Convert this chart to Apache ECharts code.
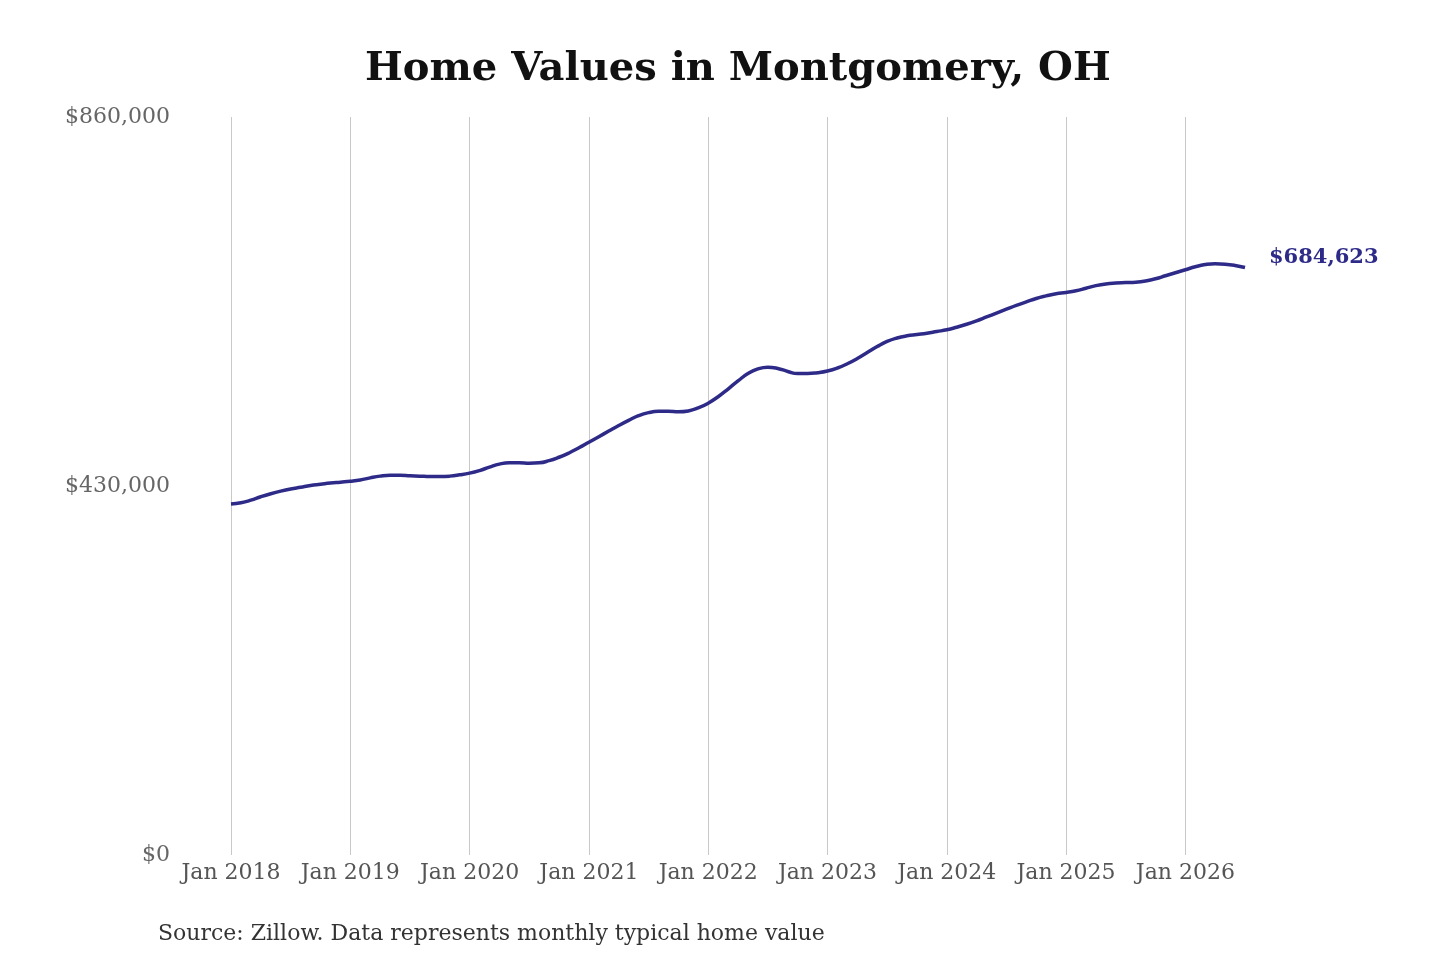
<!DOCTYPE html>
<html>
<head>
<meta charset="utf-8">
<script src="https://cdn.jsdelivr.net/npm/echarts@6/dist/echarts.min.js"></script>
<style>
	html, body { margin: 0; padding: 0; background: #fff; }
	#chart { width: 1440px; height: 960px; }
</style>
</head>
<body>
<div id="chart"></div>
<script>
	// monthly typical home value, Jan 2018 - Jul 2026
	var months = [];
	var monthNames = ['Jan','Feb','Mar','Apr','May','Jun','Jul','Aug','Sep','Oct','Nov','Dec'];
	for (var y = 2018; y <= 2026; y++) {
		for (var m = 0; m < 12; m++) {
			if (y == 2026 && m > 6) break;
			months.push(monthNames[m] + ' ' + y);
		}
	}

	var values = [
		409000, 410500, 413500, 417500, 421000, 424000, 426500, 428500, 430500, 432000, 433500, 434500,
		435500, 437000, 439500, 441500, 442500, 442500, 442000, 441500, 441000, 441000, 441500, 443000,
		445000, 448000, 452000, 455500, 457000, 457000, 456500, 457000, 459500, 463500, 468500, 474500,
		481000, 487500, 494000, 500500, 506500, 512000, 515500, 517000, 517000, 516500, 517500, 521000,
		526500, 534000, 543000, 552500, 561000, 566500, 568500, 567000, 563500, 561000, 561000, 562000,
		564000, 567500, 572500, 578500, 585500, 592500, 598500, 602500, 605000, 606500, 608000, 610000,
		612000, 615000, 618500, 622500, 627000, 631500, 636000, 640500, 644500, 648500, 651500, 654000,
		655500, 657500, 660500, 663500, 665500, 666500, 667000, 667500, 669000, 671500, 675000, 678500,
		682000, 685500, 688000, 689000, 688500, 687000, 684623
	];

	var yTicks = [0, 430000, 860000];

	function money(v) {
		return '$' + Math.round(v).toString().replace(/\B(?=(\d{3})+(?!\d))/g, ',');
	}
	function isJan(i, name) {
		return name.indexOf('Jan') === 0;
	}

	var myChart = echarts.init(document.getElementById('chart'));

	var option = {
		backgroundColor: '#fff',
		animation: false,
		title: [{
			text: 'Home Values in Montgomery, OH',
			left: 360,
			top: 45,
			textStyle: {
				fontFamily: 'DejaVu Serif',
				fontWeight: 'bold',
				fontSize: 40,
				color: '#111'
			}
		}, {
			text: 'Source: Zillow. Data represents monthly typical home value',
			left: 153,
			top: 918,
			textStyle: {
				fontFamily: 'DejaVu Serif',
				fontWeight: 'normal',
				fontSize: 22,
				color: '#333'
			}
		}],
		grid: {
			left: 231,
			right: 195,
			top: 117,
			bottom: 105
		},
		xAxis: {
			type: 'category',
			boundaryGap: false,
			data: months,
			axisLine: { show: false },
			axisTick: { show: false },
			axisLabel: {
				interval: isJan,
				margin: 7,
				fontFamily: 'DejaVu Serif',
				fontSize: 22,
				color: '#555'
			},
			splitLine: {
				show: true,
				interval: isJan,
				lineStyle: { color: '#c8c8c8', width: 1 }
			}
		},
		yAxis: {
			type: 'value',
			min: yTicks[0],
			max: yTicks[2],
			interval: yTicks[1],
			axisLine: { show: false },
			axisTick: { show: false },
			splitLine: { show: false },
			axisLabel: {
				margin: 61,
				fontFamily: 'DejaVu Serif',
				fontSize: 22,
				color: '#666',
				formatter: money
			}
		},
		series: [{
			type: 'line',
			data: values,
			smooth: true,
			showSymbol: false,
			lineStyle: { color: '#2e2b88', width: 3.5 },
			endLabel: {
				show: true,
				offset: [16, -10],
				formatter: function (p) { return money(p.value); },
				fontFamily: 'DejaVu Serif',
				fontWeight: 'bold',
				fontSize: 21,
				color: '#2e2b88'
			}
		}]
	};
	myChart.setOption(option);
</script>
</body>
</html>
